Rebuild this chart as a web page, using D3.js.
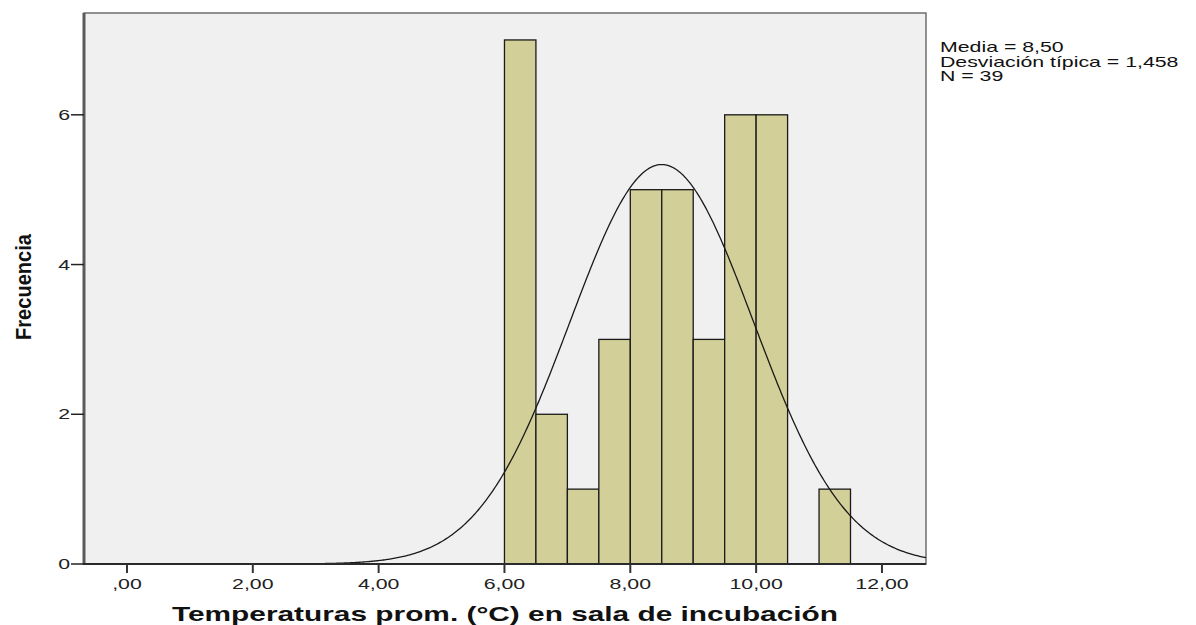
<!DOCTYPE html>
<html>
<head>
<meta charset="utf-8">
<script src="https://cdn.jsdelivr.net/npm/d3@7"></script>
<style>
  body { margin: 0; background: #fff; }
  text { font-family: "Liberation Sans", Arial, sans-serif; }
</style>
</head>
<body>
<div id="chart"></div>
<script>
// histogram bins (lower edge) and counts
const binStarts = [6.0, 6.5, 7.0, 7.5, 8.0, 8.5, 9.0, 9.5, 10.0, 10.5, 11.0]
const counts    = [7,   2,   1,   3,   5,   5,   3,   6,   6,    0,    1]
const binWidth = 0.5

const xTicks = [0, 2, 4, 6, 8, 10, 12]
const yTicks = [0, 2, 4, 6]

const mean = 8.50, sd = 1.458, n = 39
const statsLines = ["Media = 8,50", "Desviación típica = 1,458", "N = 39"]

var width = 1196, height = 625
var mLeft = 84, mRight = 926, mTop = 13, mBottom = 564
var stretch = 1.42   // the reference text is drawn wide

var x = d3.scaleLinear().domain([-0.683, 12.70]).range([mLeft, mRight])
var y = d3.scaleLinear().domain([0, 7.36]).range([mBottom, mTop])

var svg = d3.select("#chart").append("svg")
    .attr("width", width)
    .attr("height", height)

// plot background
svg.append("rect")
    .attr("x", mLeft).attr("y", mTop)
    .attr("width", mRight - mLeft).attr("height", mBottom - mTop)
    .attr("fill", "#f0f0f0")
    .attr("stroke", "#6e6e6e")
    .attr("stroke-width", 1.5)

var bars = binStarts.map((b, i) => ({x0: b, x1: b + binWidth, c: counts[i]})).filter(d => d.c > 0)

svg.append("g").selectAll("rect")
    .data(bars)
    .enter()
    .append("rect")
    .attr("x", d => x(d.x0))
    .attr("y", d => y(d.c))
    .attr("width", d => x(d.x1) - x(d.x0))
    .attr("height", d => y(0) - y(d.c))
    .attr("fill", "#d3cf98")
    .attr("stroke", "#1a1a1a")
    .attr("stroke-width", 1.3)

// normal curve scaled to counts
var k = n * binWidth / (sd * Math.sqrt(2 * Math.PI))
var pts = d3.range(-0.683, 12.70, 0.02).concat([12.70])
var line = d3.line()
    .x(d => x(d))
    .y(d => y(k * Math.exp(-0.5 * Math.pow((d - mean) / sd, 2))))

svg.append("path")
    .datum(pts)
    .attr("d", line)
    .attr("fill", "none")
    .attr("stroke", "#1a1a1a")
    .attr("stroke-width", 1.3)

// axes lines
svg.append("line")
    .attr("x1", mLeft).attr("x2", mLeft).attr("y1", mTop).attr("y2", mBottom)
    .attr("stroke", "#5a5a5a").attr("stroke-width", 3)
svg.append("line")
    .attr("x1", mLeft - 1).attr("x2", mRight).attr("y1", mBottom).attr("y2", mBottom)
    .attr("stroke", "#2a2a2a").attr("stroke-width", 2)

// y ticks
var yg = svg.append("g")
yg.selectAll("line").data(yTicks).enter().append("line")
    .attr("x1", mLeft - 13).attr("x2", mLeft)
    .attr("y1", d => y(d)).attr("y2", d => y(d))
    .attr("stroke", "#222").attr("stroke-width", 1.5)
yg.selectAll("text").data(yTicks).enter().append("text")
    .attr("transform", d => "translate(" + (mLeft - 14) + "," + (y(d) + 5) + ") scale(" + stretch + ",1)")
    .attr("text-anchor", "end")
    .attr("font-size", 15)
    .attr("fill", "#222")
    .text(d => d)

// x ticks
var fmt = v => v === 0 ? ",00" : v.toFixed(2).replace(".", ",")
var xg = svg.append("g")
xg.selectAll("line").data(xTicks).enter().append("line")
    .attr("x1", d => x(d)).attr("x2", d => x(d))
    .attr("y1", mBottom).attr("y2", mBottom + 9)
    .attr("stroke", "#333").attr("stroke-width", 2)
xg.selectAll("text").data(xTicks).enter().append("text")
    .attr("transform", d => "translate(" + x(d) + ",589) scale(" + stretch + ",1)")
    .attr("text-anchor", "middle")
    .attr("font-size", 15)
    .attr("fill", "#222")
    .text(fmt)

// axis titles
svg.append("text")
    .attr("x", 505).attr("y", 621)
    .attr("text-anchor", "middle")
    .attr("font-family", "DejaVu Sans")
    .attr("font-weight", "bold")
    .attr("font-size", 21)
    .attr("textLength", 666)
    .attr("lengthAdjust", "spacingAndGlyphs")
    .attr("fill", "#111")
    .text("Temperaturas prom. (°C) en sala de incubación")

svg.append("text")
    .attr("transform", "translate(31,287) rotate(-90)")
    .attr("text-anchor", "middle")
    .attr("font-family", "Liberation Sans Narrow, Liberation Sans")
    .attr("font-weight", "bold")
    .attr("font-size", 22)
    .attr("textLength", 106)
    .attr("lengthAdjust", "spacingAndGlyphs")
    .attr("fill", "#111")
    .text("Frecuencia")

// stats box
svg.append("g").selectAll("text")
    .data(statsLines)
    .enter()
    .append("text")
    .attr("transform", (d, i) => "translate(940," + (52 + i * 14.5) + ") scale(" + stretch + ",1)")
    .attr("font-size", 15)
    .attr("fill", "#111")
    .text(d => d)
</script>
</body>
</html>
